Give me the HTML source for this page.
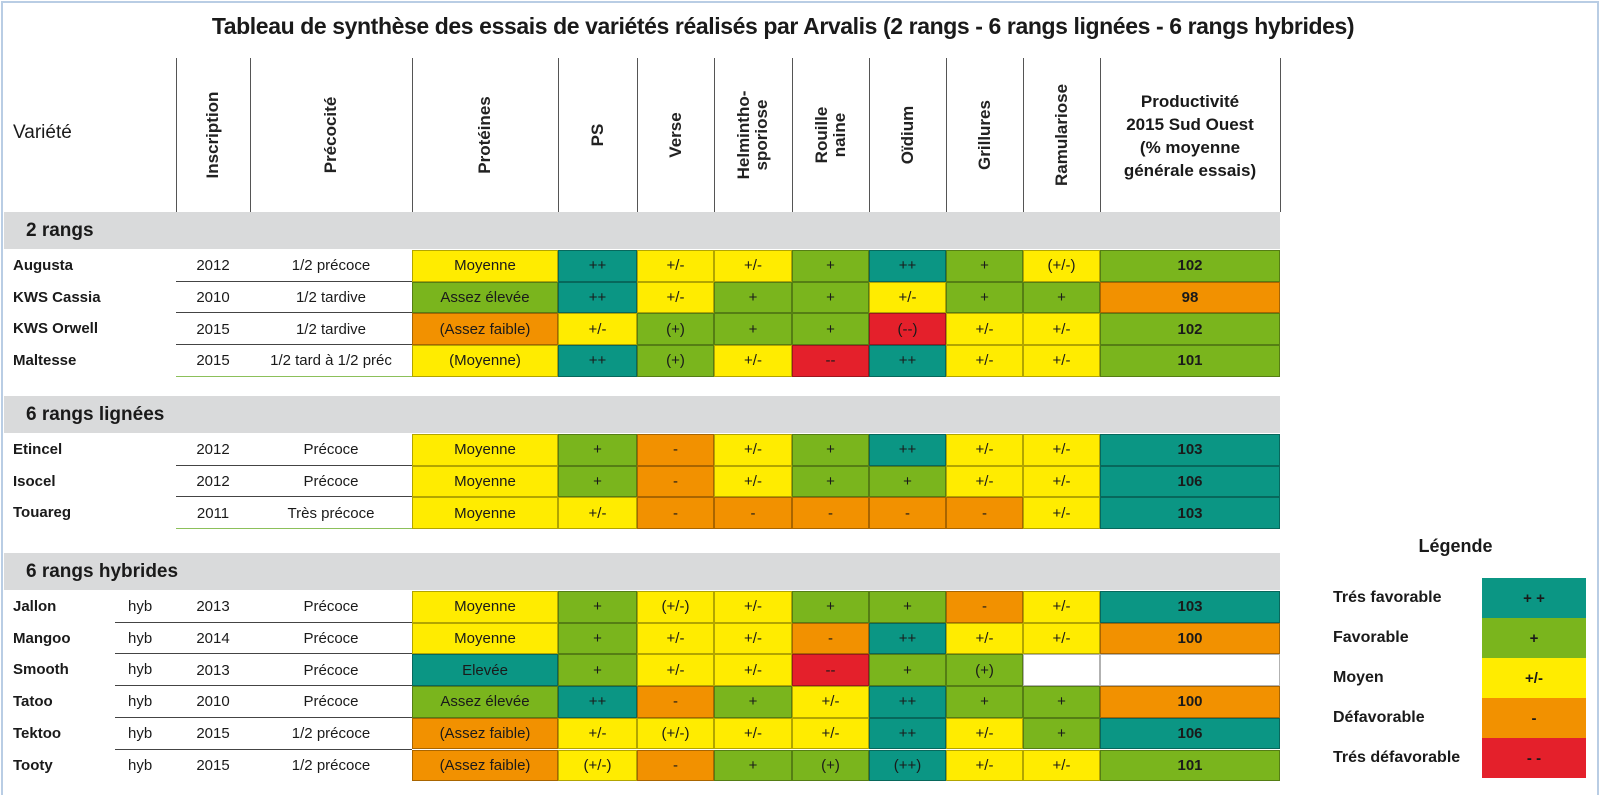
<!DOCTYPE html>
<html><head><meta charset="utf-8"><style>
body{margin:0;background:#fff;}
#root{position:relative;width:1600px;height:795px;overflow:hidden;font-family:"Liberation Sans",sans-serif;color:#1a1a1a;background:#fff;}
.abs{position:absolute;box-sizing:border-box;}
.cell{display:flex;align-items:center;justify-content:center;font-size:15px;}
.rot{position:absolute;transform:translate(-50%,-50%) rotate(-90deg);white-space:nowrap;font-size:17px;font-weight:bold;text-align:center;line-height:18px;color:#222;}
</style></head><body>
<div id="root">
<div class="abs" style="left:1px;top:1px;width:1598px;height:800px;border:2px solid #b9cde4;border-bottom:none"></div>
<div class="abs" style="left:0;top:13px;width:1566px;text-align:center;font-weight:bold;font-size:23px;letter-spacing:-0.4px">Tableau de synthèse des essais de variétés réalisés par Arvalis (2 rangs - 6 rangs lignées - 6 rangs hybrides)</div>
<div class="abs" style="left:13px;top:122px;font-size:19px">Variété</div>
</div>
<script>
const columns=["Inscription","Précocité","Protéines","PS","Verse","Helmintho-<br>sporiose","Rouille<br>naine","Oïdium","Grillures","Ramulariose"];
const groups=["2 rangs","6 rangs lignées","6 rangs hybrides"];
const varieties=["Augusta","KWS Cassia","KWS Orwell","Maltesse","Etincel","Isocel","Touareg","Jallon","Mangoo","Smooth","Tatoo","Tektoo","Tooty"];
const groupOf=[0,0,0,0,1,1,1,2,2,2,2,2,2];
const years=["2012","2010","2015","2015","2012","2012","2011","2013","2014","2013","2010","2015","2015"];
const precocite=["1/2 précoce","1/2 tardive","1/2 tardive","1/2 tard à 1/2 préc","Précoce","Précoce","Très précoce","Précoce","Précoce","Précoce","Précoce","1/2 précoce","1/2 précoce"];
const proteines=["Moyenne","Assez élevée","(Assez faible)","(Moyenne)","Moyenne","Moyenne","Moyenne","Moyenne","Moyenne","Elevée","Assez élevée","(Assez faible)","(Assez faible)"];
const ratings=[
["++","+/-","+/-","+","++","+","(+/-)"],
["++","+/-","+","+","+/-","+","+"],
["+/-","(+)","+","+","(--)","+/-","+/-"],
["++","(+)","+/-","--","++","+/-","+/-"],
["+","-","+/-","+","++","+/-","+/-"],
["+","-","+/-","+","+","+/-","+/-"],
["+/-","-","-","-","-","-","+/-"],
["+","(+/-)","+/-","+","+","-","+/-"],
["+","+/-","+/-","-","++","+/-","+/-"],
["+","+/-","+/-","--","+","(+)",""],
["++","-","+","+/-","++","+","+"],
["+/-","(+/-)","+/-","+/-","++","+/-","+"],
["(+/-)","-","+","(+)","(++)","+/-","+/-"]];
const productivite=["102","98","102","101","103","106","103","103","100","","100","106","101"];
const prodColor=["G","O","G","G","T","T","T","T","O","W","O","T","G"];
const legendLabels=["Trés favorable","Favorable","Moyen","Défavorable","Trés défavorable"];
const legendSymbols=["+ +","+","+/-","-","- -"];

const C={T:"#0b9684",G:"#7ab51d",Y:"#ffec00",O:"#f29100",R:"#e4202b",W:"#ffffff"};
function rc(v){v=v.replace(/[()]/g,"");return v==="++"?"T":v==="+"?"G":v==="+/-"?"Y":v==="-"?"O":v==="--"?"R":"W";}
function pc(v){v=v.replace(/[()]/g,"");return v==="Elevée"?"T":v==="Assez élevée"?"G":v==="Moyenne"?"Y":"O";}
const root=document.getElementById("root");
const X=[176,250,412,558,637,714,792,869,946,1023,1100,1280];
const groupTop=[212,396,553];
const rowH=31.7;
function div(css,txt,cls){const d=document.createElement("div");d.className=cls||"abs";d.style.cssText=css;if(txt!==undefined)d.innerHTML=txt;root.appendChild(d);return d;}
for(let i=0;i<=X.length-1;i++){
 const l=div(`left:${X[i]}px;top:58px;width:1px;height:154px;background:#555`);
 
 
}
columns.forEach((c,i)=>{
 const cx=(X[i]+X[i+1])/2;
 const d=div(`left:${cx}px;top:135px`,c,"rot");
 
 
});
const ph=div(`left:1100px;top:90px;width:180px;text-align:center;font-size:17px;font-weight:bold;line-height:23px`,"Productivité<br>2015 Sud Ouest<br>(% moyenne<br>générale essais)");


groups.forEach((g,i)=>{
 const b=div(`left:4px;top:${groupTop[i]}px;width:1276px;height:37px;background:#d9dadb;font-weight:bold;font-size:19px;padding-left:22px;line-height:37px`,g);
 
 
});
let idx=[0,0,0];
varieties.forEach((v,r)=>{
 const g=groupOf[r];const y=groupTop[g]+38+idx[g]*rowH;idx[g]++;
 const h=rowH;
 const last=idx[g]===[4,3,6][g];
 const n=div(`left:13px;top:${y}px;height:${h}px;line-height:${h}px;font-weight:bold;font-size:15px`,v);
 
 
 if(g===2){const hy=div(`left:128px;top:${y}px;height:${h}px;line-height:${h}px;font-size:15px`,"hyb");
  
  }
 if(!(g===2&&last)){
  const lx=g===2?115:176;
  const ln=div(`left:${lx}px;top:${y+h-1}px;width:${412-lx}px;height:1px;background:${last?'#8cc05a':'#444'}`);
  
  
 }
 const yc=div(`left:176px;top:${y}px;width:74px;height:${h}px`,years[r],"abs cell");
 
 
 const pr=div(`left:250px;top:${y}px;width:162px;height:${h}px`,precocite[r],"abs cell");
 
 
 const pt=div(`left:412px;top:${y}px;width:146px;height:${h}px;background:${C[pc(proteines[r])]};border:1px solid rgba(0,0,0,.3)`,proteines[r],"abs cell");
 
 
 ratings[r].forEach((val,k)=>{
  const c=div(`left:${X[k+3]}px;top:${y}px;width:${X[k+4]-X[k+3]}px;height:${h}px;background:${C[rc(val)]};border:1px solid rgba(0,0,0,.3)`,val,"abs cell");
  
  
 });
 const p=div(`left:1100px;top:${y}px;width:180px;height:${h}px;background:${C[prodColor[r]]};border:1px solid rgba(0,0,0,.3);font-weight:bold`,productivite[r],"abs cell");
 
 
});
const lt=div(`left:1333px;top:536px;width:245px;text-align:center;font-weight:bold;font-size:18px`,"Légende");


legendLabels.forEach((l,i)=>{
 const y=578+i*40;
 const t=div(`left:1333px;top:${y}px;height:40px;line-height:40px;font-weight:bold;font-size:16px`,l);
 
 
 const b=div(`left:1482px;top:${y}px;width:104px;height:40px;background:${C["TGYOR"[i]]};font-weight:bold`,legendSymbols[i],"abs cell");
 
 
});
</script>
</body></html>
